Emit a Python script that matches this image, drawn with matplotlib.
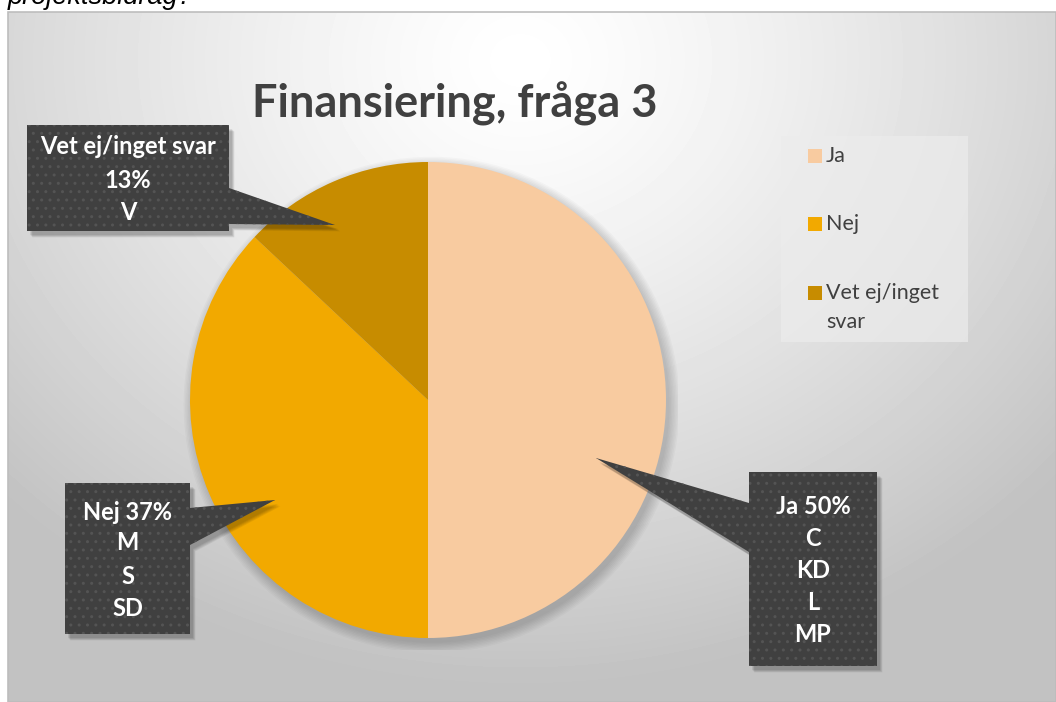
import numpy as np
import matplotlib as mpl
import matplotlib.pyplot as plt
from matplotlib.patches import Polygon, Rectangle

mpl.use("Agg")

# data
labels = ["Ja", "Nej", "Vet ej/inget svar"]
legend_labels = ["Ja", "Nej", "Vet ej/inget\nsvar"]
shares = [50, 37, 13]
parties = [["C", "KD", "L", "MP"], ["M", "S", "SD"], ["V"]]
colors = ["#F8CBA0", "#F2A900", "#C78C00"]

title = "Finansiering, fråga 3"
W, H = 1056, 702

plt.rcParams["font.family"] = ["Lato", "DejaVu Sans"]

fig = plt.figure(figsize=(W / 100, H / 100), dpi=100)
fig.patch.set_facecolor("white")

# background with radial gradient
ax_bg = fig.add_axes([0, 0, 1, 1], zorder=0)
ax_bg.set_xlim(0, W)
ax_bg.set_ylim(H, 0)
ax_bg.axis("off")
xx, yy = np.meshgrid(np.arange(8, W), np.arange(12, H))
d = np.hypot(xx - 520, (yy - 60) * 1.15) / 720
shade = 1.0 - 0.24 * np.clip(d, 0, 1) ** 1.3
ax_bg.imshow(shade, cmap="gray", vmin=0, vmax=1, extent=(8, W, H, 12),
             origin="upper", aspect="auto", interpolation="bilinear")
ax_bg.add_patch(Rectangle((8, 12), W - 8, H - 12, fill=False,
                          edgecolor="#bdbdbd", lw=1.2))
# caption of the page above the chart, cut off at the top as in the source
ax_bg.text(8, 4, "projektsbidrag?", fontsize=19.5, style="italic",
           family="Liberation Sans", color="black", va="baseline")

# pie
cx, cy, r = 428, 400, 238
ax_pie = fig.add_axes([(cx - r * 1.05) / W, (H - cy - r * 1.05) / H,
                       2.1 * r / W, 2.1 * r / H], zorder=1)
for k in range(8):
    ax_pie.add_patch(plt.Circle((0.015, -0.02), 1.0 + 0.006 * k,
                                color="black", alpha=0.025, lw=0))
ax_pie.pie(shares, colors=colors, startangle=90, counterclock=False,
           radius=1.0, wedgeprops=dict(linewidth=0))
ax_pie.set_xlim(-1.05, 1.05)
ax_pie.set_ylim(-1.05, 1.05)
ax_pie.axis("off")

# overlay for title, legend, callouts
ax = fig.add_axes([0, 0, 1, 1], zorder=2)
ax.set_xlim(0, W)
ax.set_ylim(H, 0)
ax.axis("off")
ax.patch.set_alpha(0)

ax.text(455, 104, title, fontsize=32.5, fontweight="bold", color="#404040",
        ha="center", va="center")

# legend
ax.add_patch(Rectangle((781, 136), 187, 206, facecolor="#ececec",
                       alpha=0.7, lw=0))
leg_y = [156, 224, 293]
for lab, col, y in zip(legend_labels, colors, leg_y):
    ax.add_patch(Rectangle((808, y - 7), 14, 14, facecolor=col, lw=0))
    for i, ln in enumerate(lab.split("\n")):
        ax.text(826, y + i * 29, ln, fontsize=15.5, color="#404040",
                va="center", ha="left")

# callouts: box (x0, y0, x1, y1), pointer base points and tip
callouts = [
    dict(box=(749, 472, 877, 666), base=[(749, 503), (749, 552)], tip=(596, 458),
         text_y=[507, 538, 570, 603, 635]),
    dict(box=(65, 483, 190, 634), base=[(190, 508), (190, 545)], tip=(275, 500),
         text_y=[512, 543, 576, 608]),
    dict(box=(27, 125, 229, 231), base=[(229, 188), (229, 224)], tip=(335, 225),
         text_y=[147, 180, 213]),
]


def callout_poly(c):
    x0, y0, x1, y1 = c["box"]
    (bx0, by0), (bx1, by1) = c["base"]
    if bx0 == x1:  # pointer on right side
        return [(x0, y0), (x1, y0), (bx0, by0), c["tip"], (bx1, by1),
                (x1, y1), (x0, y1)]
    return [(x0, y0), (x1, y0), (x1, y1), (x0, y1), (bx1, by1), c["tip"],
            (bx0, by0)]


plt.rcParams["hatch.linewidth"] = 1.0
for lab, share, plist, c in zip(labels, shares, parties, callouts):
    pts = np.array(callout_poly(c), dtype=float)
    for k in range(5):
        ax.add_patch(Polygon(pts + [3 + k * 0.6, 4 + k * 0.6], closed=True,
                             facecolor="black", alpha=0.06, lw=0))
    ax.add_patch(Polygon(pts, closed=True, facecolor="#404040", lw=0))
    ax.add_patch(Polygon(pts, closed=True, fill=False, hatch="..",
                         edgecolor="#545454", lw=0))
    x0, y0, x1, y1 = c["box"]
    if lab == "Vet ej/inget svar":
        lines = [lab, f"{share}%"] + plist
    else:
        lines = [f"{lab} {share}%"] + plist
    for ln, ty in zip(lines, c["text_y"]):
        ax.text((x0 + x1) / 2, ty, ln, fontsize=17, fontweight="bold",
                color="white", ha="center", va="center")

fig.savefig("out.png", dpi=100)
plt.close(fig)
